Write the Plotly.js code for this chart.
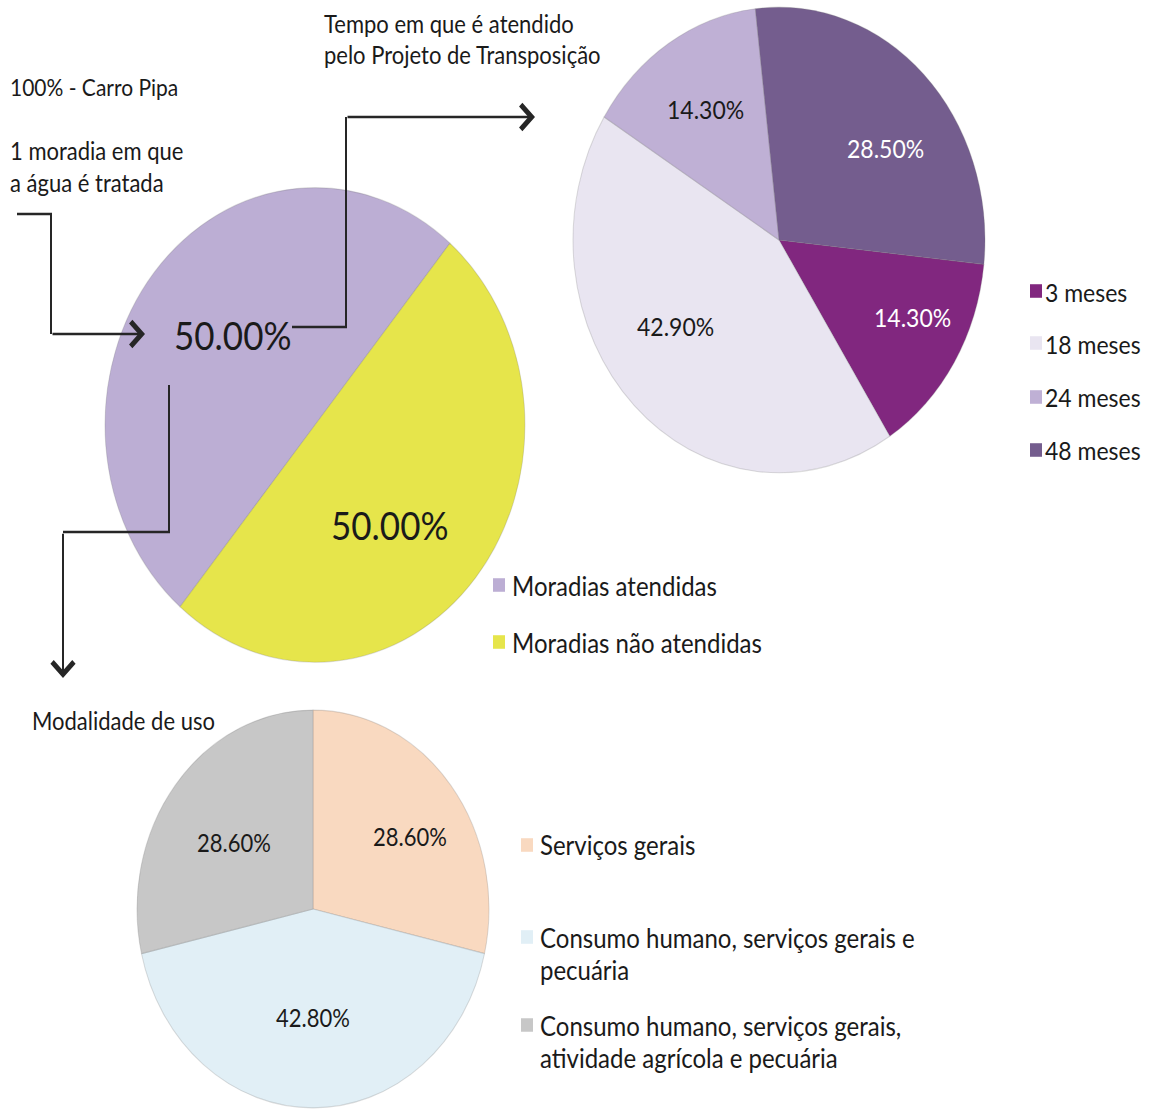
<!DOCTYPE html>
<html>
<head>
<meta charset="utf-8">
<script src="https://cdn.plot.ly/plotly-3.0.1.min.js"></script>
<style>
  html, body { margin: 0; padding: 0; background: #ffffff; width: 1153px; height: 1110px; overflow: hidden; }
  #page { position: relative; width: 1153px; height: 1110px; }
  /* the figure is laid out at a shorter height and stretched vertically,
     which turns the round pies into the tall ellipses of the poster */
  #chart { position: absolute; left: 0; top: 0; width: 1153px; height: 982px;
           transform: scaleY(1.13); transform-origin: 0 0; }
</style>
</head>
<body>
<div id="page"><div id="chart"></div></div>
<script>
// ---- data ----------------------------------------------------------------
// Households served by the water programme
const moradiaLabels = ['Moradias atendidas', 'Moradias não atendidas'];
const moradiaValues = [50.0, 50.0];
const moradiaColors = ['#bcaed4', '#e6e54b'];

// Time being served by the Transposition Project
const tempoLabels = ['3 meses', '18 meses', '24 meses', '48 meses'];
const tempoValues = [14.3, 42.9, 14.3, 28.5];
const tempoColors = ['#81277f', '#e9e5f1', '#bfb0d5', '#745d8e'];
const tempoTextColors = ['#ffffff', '#1a1a1a', '#1a1a1a', '#ffffff'];

// Kind of water use
const usoLabels = ['Serviços gerais',
                   'Consumo humano, serviços gerais e pecuária',
                   'Consumo humano, serviços gerais, atividade agrícola e pecuária'];
const usoLegendText = ['Serviços gerais',
                       'Consumo humano, serviços gerais e<br>pecuária',
                       'Consumo humano, serviços gerais,<br>atividade agrícola e pecuária'];
const usoValues = [28.6, 42.8, 28.6];
const usoColors = ['#f9d9c0', '#e1eff6', '#c7c7c7'];

// ---- geometry helpers ------------------------------------------------------
const W = 1153, H = 982, SY = 1.13;       // layout size and vertical stretch
const FONT = 'Lato, "Open Sans", sans-serif';
const INK = '#1a1a1a';
const LINE = '#262626';

// x, y are positions on the final (stretched) page
const fx = x => x / W;
const fy = y => 1 - (y / SY) / H;

function pieDomain(cx, cy, r) {
  const cyl = cy / SY;
  return { x: [(cx - r) / W, (cx + r) / W], y: [1 - (cyl + r) / H, 1 - (cyl - r) / H] };
}

function pieTrace(labels, values, colors, rotation, domain) {
  return {
    type: 'pie', labels: labels, values: values, sort: false,
    direction: 'clockwise', rotation: rotation, domain: domain,
    marker: { colors: colors, line: { color: 'rgba(120,120,120,0.25)', width: 1 } },
    textinfo: 'none', hoverinfo: 'label+percent', showlegend: false
  };
}

const shapes = [];
const annotations = [];

function label(text, x, y, size, color, align) {
  annotations.push({
    xref: 'paper', yref: 'paper', x: fx(x), y: fy(y), text: text,
    xanchor: align === 'center' ? 'center' : 'left', yanchor: 'middle',
    align: align || 'left', showarrow: false,
    font: { family: FONT, size: size, color: color || INK }
  });
}

// percentage written on each slice, taken from the slice values
function sliceLabels(values, places, size, colors) {
  values.forEach((v, i) => {
    const c = Array.isArray(colors) ? colors[i] : colors;
    label(v.toFixed(2) + '%', places[i][0], places[i][1], size, c, 'center');
  });
}

// a legend column: swatch + text, y is the centre of the first text line
function legendColumn(swatchX, textX, ys, colors, texts, size, lineGap) {
  texts.forEach((t, i) => {
    const yc = ys[i] / SY;
    shapes.push({
      type: 'rect', xref: 'paper', yref: 'paper', layer: 'above',
      x0: fx(swatchX), x1: fx(swatchX + 12),
      y0: 1 - (yc + 6) / H, y1: 1 - (yc - 6) / H,
      fillcolor: colors[i], line: { width: 0 }
    });
    t.split('<br>').forEach((line, k) => label(line, textX, ys[i] + k * lineGap, size));
  });
}

// elbow connector ending in an open arrow head
function connector(points) {
  const tail = points[points.length - 2], tip = points[points.length - 1];
  const path = points.slice(0, -1)
    .map((p, i) => (i ? 'L' : 'M') + fx(p[0]) + ',' + fy(p[1])).join(' ');
  shapes.push({ type: 'path', xref: 'paper', yref: 'paper', layer: 'above',
                path: path, line: { color: LINE, width: 2 } });
  annotations.push({
    xref: 'paper', yref: 'paper', x: fx(tip[0]), y: fy(tip[1]), text: '',
    showarrow: true, axref: 'pixel', ayref: 'pixel',
    ax: tail[0] - tip[0], ay: (tail[1] - tip[1]) / SY,
    arrowhead: 4, arrowsize: 2.1, arrowwidth: 2, arrowcolor: LINE, standoff: 0
  });
}

// ---- traces --------------------------------------------------------------
const traces = [
  pieTrace(moradiaLabels, moradiaValues, moradiaColors, 220, pieDomain(315, 425, 210)),
  pieTrace(tempoLabels, tempoValues, tempoColors, 96, pieDomain(779, 240, 206)),
  pieTrace(usoLabels, usoValues, usoColors, 0, pieDomain(313, 909, 176))
];

// ---- slice labels ---------------------------------------------------------
sliceLabels(moradiaValues, [[233, 335], [390, 524]], 35, INK);
sliceLabels(tempoValues, [[912, 316], [675, 325], [705, 108], [885, 148]], 23, tempoTextColors);
sliceLabels(usoValues, [[410, 837], [313, 1017], [234, 842]], 22, INK);

// ---- notes, legends and connectors ----------------------------------------
label('Tempo em que é atendido', 322, 23, 22);
label('pelo Projeto de Transposição', 322, 55, 22);
label('100% - Carro Pipa', 8, 86, 21);
label('1 moradia em que', 8, 151, 22);
label('a água é tratada', 8, 182, 22);
label('Modalidade de uso', 30, 720, 22);

legendColumn(493, 510, [585, 642], moradiaColors, moradiaLabels, 24, 33);
legendColumn(1030, 1043, [291, 343, 397, 450], tempoColors, tempoLabels, 23, 33);
legendColumn(521, 538, [845, 937, 1025], usoColors, usoLegendText, 24, 32.5);

connector([[17, 214], [51, 214], [51, 334], [145, 334]]);
connector([[292, 327], [346, 327], [346, 117], [535, 117]]);
connector([[169, 385], [169, 532], [63, 532], [63, 678]]);

const layout = {
  width: W, height: H,
  margin: { l: 0, r: 0, t: 0, b: 0, pad: 0 },
  paper_bgcolor: '#ffffff', plot_bgcolor: '#ffffff',
  showlegend: false,
  font: { family: FONT, color: INK },
  shapes: shapes, annotations: annotations
};

Plotly.newPlot('chart', traces, layout, { displayModeBar: false, staticPlot: true });
</script>
</body>
</html>
